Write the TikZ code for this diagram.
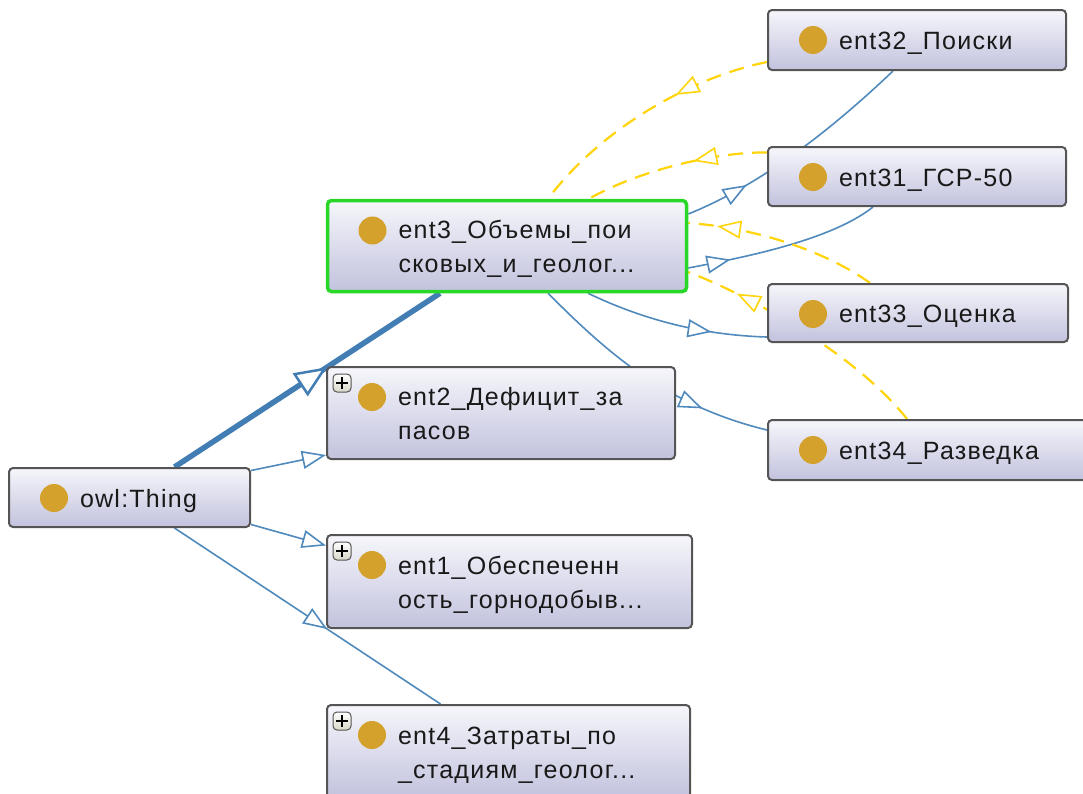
\documentclass[tikz,border=0pt]{standalone}
\usepackage{fontspec}
\setmainfont{Liberation Sans}[LetterSpace=5]
\usetikzlibrary{arrows.meta,decorations.markings}
\definecolor{boxtop}{RGB}{246,246,251}
\definecolor{boxbot}{RGB}{194,194,222}
\definecolor{boxline}{RGB}{85,85,85}
\definecolor{selgreen}{RGB}{40,215,40}
\definecolor{dotgold}{RGB}{212,162,44}
\definecolor{edgeblue}{RGB}{80,138,188}
\definecolor{thickblue}{RGB}{66,126,180}
\definecolor{edgeyellow}{RGB}{255,212,10}
\definecolor{txt}{RGB}{25,25,25}
\definecolor{plusfill}{RGB}{215,215,200}
\newcommand\entfont{\fontsize{25}{34}\selectfont\hyphenpenalty=10000\exhyphenpenalty=10000\hfuzz=200pt\hbadness=10000}
\pgfdeclarelayer{bg}
\pgfsetlayers{bg,main}
\tikzset{
  entbox/.style={draw=boxline, line width=2pt, rounded corners=4pt,
    top color=boxtop, bottom color=boxbot, inner xsep=0pt, inner ysep=0pt,
    align=left, text=txt, font=\entfont, text height=24pt,
    path picture={\fill[dotgold] ([xshift=45pt,yshift=-30pt]path picture bounding box.north west) circle (14pt);}},
  entplus/.style={path picture={
    \fill[dotgold] ([xshift=45pt,yshift=-30pt]path picture bounding box.north west) circle (14pt);
    \draw[line width=1pt, draw=boxline, top color=white, bottom color=plusfill] ([xshift=6pt,yshift=-7pt]path picture bounding box.north west) rectangle ++(18pt,-18pt);
    \draw[line width=1.8pt, black] ([xshift=15pt,yshift=-10pt]path picture bounding box.north west) -- ++(0pt,-12pt)
      ([xshift=9pt,yshift=-16pt]path picture bounding box.north west) -- ++(12pt,0pt);}},
  oneline/.style={text depth=5pt},
  twoline/.style={text depth=39pt},
  selected/.style={draw=selgreen, line width=3.5pt},
  isa/.style={draw=edgeblue, line width=1.6pt},
  isathick/.style={draw=thickblue, line width=5.5pt},
  rel/.style={draw=edgeyellow, line width=2.2pt, dash pattern=on 15pt off 9pt},
  midarrow/.style={postaction={decorate, decoration={markings,
    mark=at position #1 with {\arrow{Triangle[length=24pt,width=18pt,fill=white,line width=1.6pt]}}}}},
  midarrowthick/.style={postaction={decorate, decoration={markings,
    mark=at position #1 with {\arrow{Triangle[length=32pt,width=27pt,fill=white,line width=2.5pt]}}}}},
  endarrow/.style={-{Triangle[length=24pt,width=18pt,fill=white,line width=1.6pt]}}
}
\begin{document}
\begin{tikzpicture}[x=1pt,y=-1pt]
\useasboundingbox (0,0) rectangle (1083,793);
% nodes
\node[entbox, oneline, minimum width=241pt, minimum height=59pt, text width=99pt] (thing) at (129.5,497.5) {owl:Thing};
\node[entbox, twoline, selected, minimum width=359pt, minimum height=91pt, text width=217pt] (ent3) at (507,246) {ent3\_Объемы\_пои\\сковых\_и\_геолог...};
\node[entbox, entplus, twoline, minimum width=348pt, minimum height=92pt, text width=206pt] (ent2) at (501,413) {ent2\_Дефицит\_за\\пасов};
\node[entbox, entplus, twoline, minimum width=365pt, minimum height=93pt, text width=223pt] (ent1) at (509.5,581.5) {ent1\_Обеспеченн\\ость\_горнодобыв...};
\node[entbox, entplus, twoline, minimum width=363pt, minimum height=93pt, text width=221pt] (ent4) at (508.5,751.5) {ent4\_Затраты\_по\\\_стадиям\_геолог...};
\node[entbox, oneline, minimum width=298pt, minimum height=60pt, text width=156pt] (ent32) at (917,40) {ent32\_Поиски};
\node[entbox, oneline, minimum width=298pt, minimum height=59pt, text width=156pt] (ent31) at (917,176.5) {ent31\_ГСР-50};
\node[entbox, oneline, minimum width=300pt, minimum height=58pt, text width=158pt] (ent33) at (918,313) {ent33\_Оценка};
\node[entbox, oneline, minimum width=322pt, minimum height=60pt, text width=180pt] (ent34) at (929,450) {ent34\_Разведка};
% connectors
\begin{pgfonlayer}{bg}
\draw[isathick, midarrowthick=0.574] ([xshift=45pt]thing.north) -- ([xshift=-67pt]ent3.south);
\draw[isa, endarrow] ([yshift=27pt]thing.east) -- ([yshift=-42pt]ent2.west);
\draw[isa, endarrow] ([yshift=-27pt]thing.east) -- ([yshift=36pt]ent1.west);
\draw[isa, midarrow=0.574] ([xshift=45pt]thing.south) -- ([xshift=-68pt]ent4.north);
\draw[isa, midarrow=0.26] ([yshift=32pt]ent3.east) .. controls +(72,-29) and +(-63,60) .. ([xshift=-24pt]ent32.south);
\draw[isa, midarrow=0.22] ([yshift=-22pt]ent3.east) .. controls +(52,-10) and +(-43,34) .. ([xshift=-44pt]ent31.south);
\draw[isa, midarrow=0.70] ([xshift=81pt]ent3.south) .. controls +(52,25) and +(-68,-2) .. ([yshift=-24pt]ent33.west);
\draw[isa, midarrow=0.74] ([xshift=41pt]ent3.south) .. controls +(57,57) and +(-103,-25) .. ([yshift=20pt]ent34.west);
\draw[rel, midarrow=0.37] ([yshift=-22pt]ent32.west) .. controls +(-78,16) and +(52,-69) .. ([xshift=41pt]ent3.north);
\draw[rel, midarrow=0.40] ([yshift=24pt]ent31.west) .. controls +(-48,-1) and +(51,-29) .. ([xshift=82pt]ent3.north);
\draw[rel, midarrow=0.85] ([xshift=-48pt]ent33.north) .. controls +(-40,-29) and +(72,5) .. ([yshift=23pt]ent3.east);
\draw[rel, midarrow=0.80] ([xshift=-22pt]ent34.north) .. controls +(-47,-60) and +(72,28) .. ([yshift=-26pt]ent3.east);
\end{pgfonlayer}
\end{tikzpicture}
\end{document}
